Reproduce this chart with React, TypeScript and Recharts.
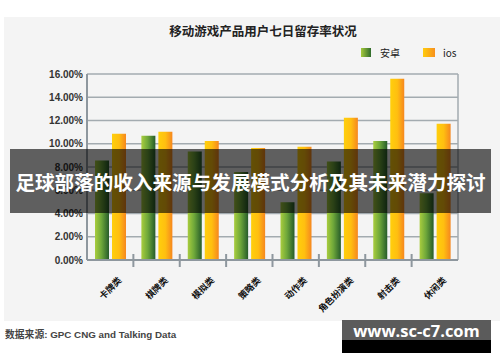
import React from 'react';
import { BarChart, Bar, XAxis, YAxis, CartesianGrid } from 'recharts';

// categories and 7-day retention (%)
const categories = ['卡牌类', '棋牌类', '模拟类', '策略类', '动作类', '角色扮演类', '射击类', '休闲类'];
const android = [8.56, 10.69, 9.34, 7.56, 4.97, 8.48, 10.23, 5.75];
const ios = [10.86, 11.03, 10.23, 9.63, 9.74, 12.24, 15.6, 11.72];
const yTicks = [0, 2, 4, 6, 8, 10, 12, 14, 16];

const data = categories.map((name, i) => ({ name, android: android[i], ios: ios[i] }));

const PLOT_LEFT = 87;
const PLOT_RIGHT = 458;
const PLOT_TOP = 74;
const PLOT_BOTTOM = 260;
const X_AXIS_H = 30;
const BAND = (PLOT_RIGHT - PLOT_LEFT) / categories.length;
const AXIS_GRAY = '#8e979e';

const XTick = (props: any) => {
  const { x, y, payload, index } = props;
  return (
    <g>
      {index < categories.length - 1 && (
        <line x1={x + BAND / 2} x2={x + BAND / 2} y1={y - 6} y2={y + 7} stroke={AXIS_GRAY} strokeWidth={2} />
      )}
      <text
        transform={`translate(${x + 12},${y + 21}) rotate(-45)`}
        textAnchor="end"
        fontSize={9}
        fontWeight="bold"
        fill="#111"
        fontFamily="'Noto Sans CJK SC', sans-serif"
      >
        {payload.value}
      </text>
    </g>
  );
};

export default function App() {
  return (
    <div style={{ position: 'absolute', left: 0, top: 0, width: 500, height: 362, background: '#fff', overflow: 'hidden' }}>
      <div style={{ position: 'absolute', left: 4, top: 17, width: 496, height: 304, background: '#f4f4f4' }} />
      <div
        style={{
          position: 'absolute', left: 0, width: 526, top: 21, textAlign: 'center',
          fontFamily: "'Noto Sans CJK SC', sans-serif", fontWeight: 'bold', fontSize: 12.5, color: '#222',
        }}
      >
        移动游戏产品用户七日留存率状况
      </div>
      <div
        style={{
          position: 'absolute', left: 361, top: 45, display: 'flex', alignItems: 'center',
          fontFamily: "'Noto Sans CJK SC', sans-serif", fontSize: 10, color: '#222',
        }}
      >
        <span style={{ width: 10, height: 9, background: 'linear-gradient(to right, #a5c93c, #2f6b2c)', display: 'inline-block' }} />
        <span style={{ marginLeft: 9, width: 43 }}>安卓</span>
        <span style={{ width: 12, height: 9, background: 'linear-gradient(to right, #ffcc0d, #f7901e)', display: 'inline-block' }} />
        <span style={{ marginLeft: 8 }}>ios</span>
      </div>
      <div style={{ position: 'absolute', left: 0, top: 0 }}>
        <BarChart
          width={500}
          height={362}
          data={data}
          margin={{ top: PLOT_TOP, right: 500 - PLOT_RIGHT, left: 0, bottom: 362 - PLOT_BOTTOM - X_AXIS_H }}
          barSize={14}
          barGap={3}
        >
          <defs>
            <linearGradient id="gGreen" x1="0" y1="0" x2="1" y2="0">
              <stop offset="0%" stopColor="#a9cd3e" />
              <stop offset="45%" stopColor="#6fa83a" />
              <stop offset="100%" stopColor="#265c2a" />
            </linearGradient>
            <linearGradient id="gOrange" x1="0" y1="0" x2="1" y2="0">
              <stop offset="0%" stopColor="#ffcf0c" />
              <stop offset="50%" stopColor="#ffbf10" />
              <stop offset="100%" stopColor="#f6871f" />
            </linearGradient>
          </defs>
          <CartesianGrid vertical={true} verticalPoints={[PLOT_RIGHT]} stroke="#a3abb0" strokeWidth={1.5} />
          <XAxis
            dataKey="name"
            height={X_AXIS_H}
            axisLine={{ stroke: AXIS_GRAY, strokeWidth: 2 }}
            tickLine={false}
            tickSize={0}
            tickMargin={0}
            interval={0}
            tick={<XTick />}
          />
          <YAxis
            width={PLOT_LEFT}
            domain={[0, 16]}
            ticks={yTicks}
            interval={0}
            axisLine={{ stroke: AXIS_GRAY, strokeWidth: 2 }}
            tickLine={false}
            tickSize={0}
            tickMargin={4}
            tickFormatter={(v: number) => v.toFixed(2) + '%'}
            tick={{ fontSize: 10, fontWeight: 'bold', fill: '#333', fontFamily: "'Liberation Sans Narrow', 'Liberation Sans', sans-serif" }}
          />
          <Bar dataKey="android" name="安卓" fill="url(#gGreen)" isAnimationActive={false} />
          <Bar dataKey="ios" name="ios" fill="url(#gOrange)" isAnimationActive={false} />
        </BarChart>
      </div>
      <div
        style={{
          position: 'absolute', left: 5, top: 327, whiteSpace: 'nowrap',
          fontFamily: "'Liberation Sans', 'Noto Sans CJK SC', sans-serif", fontWeight: 'bold', fontSize: 9.8, color: '#444',
        }}
      >
        数据来源: GPC CNG and Talking Data
      </div>
      <div
        style={{
          position: 'absolute', left: 10, top: 149, width: 481, height: 64, background: 'rgba(0,0,0,0.61)',
          display: 'flex', alignItems: 'center', justifyContent: 'center',
          fontFamily: "'Noto Sans CJK SC', sans-serif", fontWeight: 'bold', fontSize: 19.6, color: '#fff', whiteSpace: 'nowrap',
        }}
      >
        足球部落的收入来源与发展模式分析及其未来潜力探讨
      </div>
      <div style={{ position: 'absolute', left: 342, top: 320, width: 149, height: 20, background: '#5b5b5b' }} />
      <div style={{ position: 'absolute', left: 342, top: 340, width: 149, height: 13, background: '#000' }} />
      <div
        style={{
          position: 'absolute', left: 342, top: 319, width: 149, textAlign: 'center',
          fontFamily: "'Open Sans', sans-serif", fontWeight: 'bold', fontSize: 16.5, color: '#fff', whiteSpace: 'nowrap',
        }}
      >
        www.sc-c7.com
      </div>
    </div>
  );
}
